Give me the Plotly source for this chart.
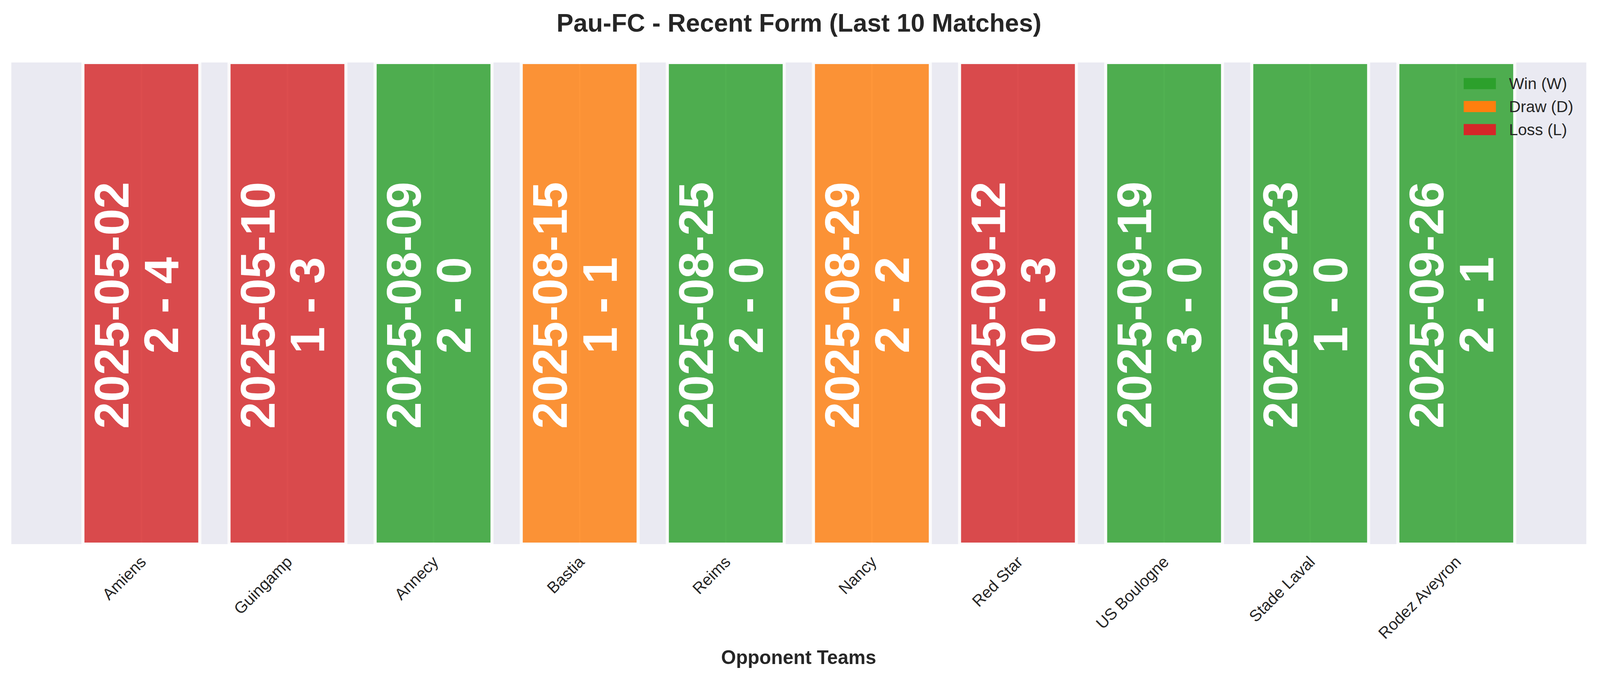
import plotly.graph_objects as go

# match data, oldest first
opponents = ['Amiens', 'Guingamp', 'Annecy', 'Bastia', 'Reims',
             'Nancy', 'Red Star', 'US Boulogne', 'Stade Laval', 'Rodez Aveyron']
match_dates = ['2025-05-02', '2025-05-10', '2025-08-09', '2025-08-15', '2025-08-25',
               '2025-08-29', '2025-09-12', '2025-09-19', '2025-09-23', '2025-09-26']
scores = ['2 - 4', '1 - 3', '2 - 0', '1 - 1', '2 - 0',
          '2 - 2', '0 - 3', '3 - 0', '1 - 0', '2 - 1']
results = ['L', 'L', 'W', 'D', 'W', 'D', 'L', 'W', 'W', 'W']
bar_heights = [1, 1, 1, 1, 1, 1, 1, 1, 1, 1]

legend_codes = ['W', 'D', 'L']
legend_labels = ['Win (W)', 'Draw (D)', 'Loss (L)']
result_colors = {'W': '#2ca02c', 'D': '#ff7f0e', 'L': '#d62728'}

# layout measured on a 4170x1769 canvas; S shrinks it to the usable viewport,
# PAD is the page body margin around the figure
S = 0.981
PAD = 8


def px(v):
    # size in canvas pixels -> figure pixels
    return v * S


def pos(v):
    # position on canvas -> position inside the figure
    return v * S - PAD


W, H = round(px(4170)) - 2 * PAD, round(px(1769)) - 2 * PAD
PLOT_L, PLOT_R, PLOT_T, PLOT_B = pos(30), pos(4140), pos(163), pos(1420)
TEXT = '#262626'
FONT = 'Liberation Sans, Arial, sans-serif'


def to_paper(xp, yp):
    xp, yp = pos(xp), pos(yp)
    return (xp - PLOT_L) / (PLOT_R - PLOT_L), (PLOT_B - yp) / (PLOT_B - PLOT_T)


fig = go.Figure()
fig.add_trace(go.Bar(
    x=opponents,
    y=bar_heights,
    width=0.8,
    marker=dict(color=[result_colors[r] for r in results], line=dict(color='white', width=px(8))),
    opacity=0.82,
    showlegend=False,
    hoverinfo='skip',
))

# date + score written vertically inside each bar
for team, date, score in zip(opponents, match_dates, scores):
    for txt, shift in ((date, -77), (score, 53)):
        fig.add_annotation(
            x=team, y=0.496, xref='x', yref='y', text=f'<b>{txt}</b>',
            textangle=-90, showarrow=False, xshift=px(shift),
            font=dict(family=FONT, size=px(126), color='white'),
            xanchor='center', yanchor='middle',
        )

# legend, top right inside the axes
for i, (code, label) in enumerate(zip(legend_codes, legend_labels)):
    yc = 218 + 60 * i
    x0, y0 = to_paper(3820, yc + 14.5)
    x1, y1 = to_paper(3904, yc - 14.5)
    fig.add_shape(type='rect', xref='paper', yref='paper', x0=x0, y0=y0, x1=x1, y1=y1,
                  fillcolor=result_colors[code], line=dict(width=0))
    tx, ty = to_paper(3936, yc)
    fig.add_annotation(xref='paper', yref='paper', x=tx, y=ty, text=label, showarrow=False,
                       xanchor='left', yanchor='middle',
                       font=dict(family=FONT, size=px(42), color=TEXT))

ax, ay = to_paper(2085, 1716)
fig.add_annotation(xref='paper', yref='paper', x=ax, y=ay, text='<b>Opponent Teams</b>',
                   showarrow=False, xanchor='center', yanchor='middle',
                   font=dict(family=FONT, size=px(50), color=TEXT))

fig.update_layout(
    width=W, height=H,
    margin=dict(l=PLOT_L, r=W - PLOT_R, t=PLOT_T, b=H - PLOT_B, autoexpand=False),
    paper_bgcolor='white',
    plot_bgcolor='#EAEAF2',
    title=dict(text='<b>Pau-FC - Recent Form (Last 10 Matches)</b>', x=0.5, xanchor='center',
               y=1 - pos(59) / H, yanchor='middle',
               font=dict(family=FONT, size=px(66), color=TEXT)),
    xaxis=dict(range=[-0.89, 9.89], showgrid=True, gridcolor='white', gridwidth=px(4),
               tickangle=-45, tickfont=dict(family=FONT, size=px(42), color=TEXT),
               ticklabelstandoff=round(px(12)),
               ticks='', showline=False, zeroline=False),
    yaxis=dict(range=[0, 1], showgrid=False, showticklabels=False, zeroline=False, showline=False),
    bargap=0.2,
)

fig.write_html('out.html')
